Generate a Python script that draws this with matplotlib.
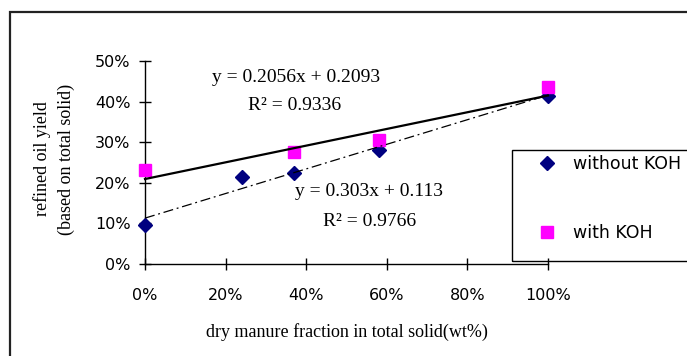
import matplotlib.pyplot as plt
from matplotlib.patches import Rectangle
from matplotlib.ticker import PercentFormatter

# dry manure fraction (x) and refined oil yield (y)
x_without = [0.0, 0.24, 0.37, 0.58, 1.0]
y_without = [0.095, 0.214, 0.224, 0.280, 0.413]
x_with = [0.0, 0.37, 0.58, 1.0]
y_with = [0.232, 0.276, 0.306, 0.437]

# trendline coefficients (slope, intercept) as labelled on the chart
fit_with = (0.2056, 0.2093)
fit_without = (0.303, 0.113)
r2_with = 0.9336
r2_without = 0.9766

W, H = 687, 356
fig = plt.figure(figsize=(W / 100, H / 100), dpi=100)
ax = fig.add_axes([145 / W, 1 - 264 / H, 403 / W, 203 / H])

sans = 'DejaVu Sans'
serif = 'Liberation Serif'

ax.plot(x_without, y_without, linestyle='none', marker='D', ms=7.0,
        color='#000080', label='without KOH', clip_on=False, zorder=3)
ax.plot(x_with, y_with, linestyle='none', marker='s', ms=8.5,
        color='#ff00ff', label='with KOH', clip_on=False, zorder=3)

xs = [0.0, 1.0]
ax.plot(xs, [fit_with[0] * v + fit_with[1] for v in xs], color='black',
        lw=1.6, zorder=4, clip_on=False)
ax.plot(xs, [fit_without[0] * v + fit_without[1] for v in xs], color='black',
        lw=0.9, dashes=(8, 3, 1.5, 3), zorder=4, clip_on=False)

ax.set_xlim(0, 1)
ax.set_ylim(0, 0.5)
ax.set_xticks([0, 0.2, 0.4, 0.6, 0.8, 1.0])
ax.set_yticks([0, 0.1, 0.2, 0.3, 0.4, 0.5])
ax.xaxis.set_major_formatter(PercentFormatter(1.0, decimals=0))
ax.yaxis.set_major_formatter(PercentFormatter(1.0, decimals=0))
for s in ['top', 'right']:
    ax.spines[s].set_visible(False)
for s in ['left', 'bottom']:
    ax.spines[s].set_linewidth(1.0)
ax.tick_params(axis='both', direction='inout', length=9, width=1.0,
               labelsize=11.5)
ax.tick_params(axis='x', pad=13)
ax.tick_params(axis='y', pad=6)
for lab in ax.get_xticklabels() + ax.get_yticklabels():
    lab.set_fontfamily(sans)

ax.set_xlabel('dry manure fraction in total solid(wt%)', family=serif,
              fontsize=13, labelpad=14)
fig.text(54 / W, 1 - 159 / H, 'refined oil yield\n(based on total solid)',
         family=serif, fontsize=13, rotation=90, ha='center', va='center',
         linespacing=1.55)

fig.text(296 / W, 1 - 78 / H, 'y = %sx + %s' % fit_with, family=serif,
         fontsize=14, ha='center', va='center')
fig.text(295 / W, 1 - 106 / H, 'R² = %s' % r2_with, family=serif,
         fontsize=14, ha='center', va='center')
fig.text(369 / W, 1 - 192 / H, 'y = %sx + %s' % fit_without, family=serif,
         fontsize=14, ha='center', va='center')
fig.text(370 / W, 1 - 221 / H, 'R² = %s' % r2_without, family=serif,
         fontsize=14, ha='center', va='center')

# legend box runs past the right edge
fig.add_artist(Rectangle((512 / W, 1 - 261 / H), 0.4, 111 / H,
                         transform=fig.transFigure, fill=False,
                         ec='black', lw=1.0))
fig.legend(loc='center left', bbox_to_anchor=(538 / W, 1 - 198.5 / H),
           frameon=False, prop={'family': sans, 'size': 12.5}, numpoints=1,
           handlelength=1.0, handletextpad=1.0, labelspacing=2.9,
           borderpad=0, borderaxespad=0)

# outer chart frame, only its top and left edges fall inside the image
fig.add_artist(Rectangle((10 / W, -0.2), 1.2, (1 - 12 / H) + 0.2,
                         transform=fig.transFigure, fill=False,
                         ec='#222222', lw=1.6))

fig.savefig('out.png', dpi=100)
